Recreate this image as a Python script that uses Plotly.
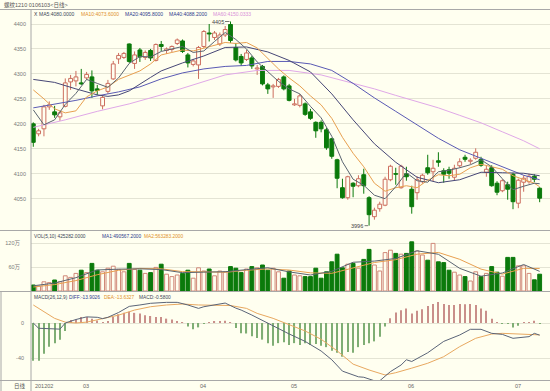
import plotly.graph_objects as go

# ---------------- data ----------------
open_ = [4200,4180,4190,4234,4224,4214,4235,4284,4286,4282,
         4292,4294,4270,4236,4265,4290,4330,4333,4360,4321,
         4348,4333,4347,4327,4359,4347,4349,4361,4366,4338,
         4319,4318,4355,4382,4373,4360,4378,4399,4353,4335,
         4329,4332,4310,4315,4278,4274,4275,4294,4276,4238,
         4237,4240,4224,4203,4203,4188,4170,4128,4072,4052,
         4081,4076,4098,4052,4014,4030,4037,4088,4100,4072,
         4100,4069,4062,4084,4112,4104,4126,4106,4108,4093,
         4116,4133,4125,4131,4129,4103,4112,4081,4066,4078,
         4099,4041,4083,4084,4095,4071]
high = [4203,4190,4238,4245,4236,4226,4291,4298,4306,4310,
        4304,4307,4278,4256,4288,4326,4342,4344,4361,4345,
        4352,4347,4350,4361,4366,4353,4357,4371,4369,4342,
        4330,4356,4388,4400,4386,4383,4396,4405,4362,4340,
        4348,4336,4318,4318,4282,4280,4292,4297,4280,4250,
        4260,4243,4230,4205,4207,4192,4172,4130,4090,4096,
        4083,4097,4110,4055,4032,4044,4094,4118,4112,4118,
        4114,4076,4095,4100,4138,4128,4143,4111,4114,4118,
        4131,4138,4131,4151,4134,4117,4117,4085,4089,4084,
        4102,4090,4097,4100,4099,4073]
low = [4154,4175,4175,4228,4212,4206,4233,4268,4275,4278,
       4288,4252,4258,4229,4260,4288,4320,4330,4322,4310,
       4324,4328,4326,4325,4346,4340,4344,4358,4342,4313,
       4315,4290,4352,4365,4368,4356,4374,4362,4325,4316,
       4326,4310,4298,4277,4260,4252,4272,4267,4245,4236,
       4233,4216,4208,4172,4183,4148,4130,4071,4050,4048,
       4053,4073,4060,3996,4008,4024,4035,4085,4078,4070,
       4086,4020,4048,4080,4098,4085,4114,4082,4090,4087,
       4112,4124,4119,4128,4114,4094,4074,4057,4063,4048,
       4029,4031,4064,4080,4083,4043]
close = [4163,4186,4234,4238,4218,4222,4282,4291,4294,4280,
         4299,4266,4267,4253,4281,4320,4337,4341,4325,4338,
         4334,4343,4332,4359,4355,4350,4355,4368,4345,4322,
         4326,4353,4385,4380,4382,4378,4389,4367,4328,4322,
         4342,4316,4312,4280,4270,4276,4289,4270,4247,4240,
         4256,4219,4211,4186,4190,4152,4135,4091,4052,4094,
         4075,4090,4076,4018,4027,4039,4089,4115,4099,4115,
         4094,4034,4088,4097,4102,4111,4123,4099,4101,4111,
         4124,4129,4127,4143,4117,4109,4076,4063,4086,4069,
         4044,4087,4091,4095,4089,4051]

# volume in 万
volume = [15,12.5,23,21,27.5,23,38,34,44,52,
          46,69,52,48,57,62,54,48,69,54,
          52,44,46,59,67,42,36,40,44,52,
          32,58,50,55,38,50,48,61,57,46,
          55,61,58,65,52,57,48,32,50,40,
          38,36,36,57,32,48,73,92,58,67,
          69,57,79,104,65,50,96,102,94,92,
          94,123,100,90,77,119,73,71,52,47,
          40,36,25,48,36,44,61,47,37,84,
          84,63,63,44,28,42]

ma5_idx = [0,2,4,6,8,10,12,14,16,18,20,22,24,26,28,30,32,34,36,38,40,42,44,46,48,
           50,52,54,56,58,60,62,64,66,68,70,72,74,76,78,80,82,84,86,88,90,92,94,95]
ma5 = [4228,4198,4208,4239,4261,4289,4281,4273,4292,4321,4335,4334,4345,4350,4355,4343,4346,
       4365,4383,4369,4350,4324,4304,4285,4270,4260,4235,4212,4175,4124,4089,4077,4057,4050,
       4074,4102,4086,4083,4104,4107,4112,4118,4128,4114,4090,4068,4075,4081,4080]
ma10_idx = ma5_idx
ma10 = [4268,4250,4230,4222,4226,4254,4266,4274,4289,4297,4306,4320,4338,4343,4348,4346,4352,
        4357,4363,4361,4363,4352,4330,4310,4292,4276,4256,4238,4211,4173,4141,4114,4081,4065,
        4072,4076,4072,4087,4098,4096,4099,4112,4119,4114,4109,4096,4089,4081,4074]
ma20_idx = [0,4,8,12,14,16,18,20,22,24,28,32,36,40,44,48,52,56,60,64,68,72,76,80,84,88,92,95]
ma20 = [4289,4283,4270,4258,4255,4258,4266,4280,4293,4306,4322,4336,4353,4354,4344,4327,4304,
        4260,4208,4160,4123,4093,4082,4088,4103,4102,4101,4096]
ma40_idx = [0,4,8,12,16,20,24,28,32,36,40,44,48,52,56,60,64,68,72,76,80,84,88,92,95]
ma40 = [4232,4239,4247,4256,4264,4274,4290,4302,4310,4315,4317,4325,4325,4320,4307,4281,4252,
        4225,4198,4171,4148,4131,4113,4097,4088]
ma60_idx = [0,6,12,18,24,30,36,42,48,54,60,64,68,72,76,80,84,88,92,95]
ma60 = [4193,4208,4225,4240,4258,4278,4298,4307,4307,4298,4281,4270,4257,4244,4232,4217,4202,
        4184,4166,4150]

vma_idx = [0,4,8,12,16,20,24,28,32,36,40,44,48,52,56,60,64,68,72,76,80,84,88,92,95]
vma5 = [13,19.8,33.3,52.6,54.6,55.4,53.6,45.8,47.2,48.2,53.4,58.2,47.8,40,49.2,71.8,74.8,81.4,
        100.6,91.8,56.6,37,45,66.2,49.1]
vma10 = [10,16,26,40.7,51.8,56.5,55.5,48.4,48,46.7,51.8,55.3,52.4,45.4,44.2,56.8,71.2,78.3,92,
         96.4,79.2,54.7,42.1,56.7,56.3]

macd_hist = [-43,-43,-35,-27,-23,-19,-9,3.4,4,7,
             7,5,3,0.5,2,7,10,11.6,13,11.6,
             11,9,8,7,7,5,4,2.3,0.4,-4,
             -7,-5,-0.5,0.4,1.5,1.5,2.7,0.5,-5.7,-11.8,
             -12,-15,-17,-19,-23,-26,-23,-22,-25,-23,
             -25,-23,-25,-24,-26,-27.6,-31.6,-34,-38.5,-33,
             -34,-27.6,-25,-23,-21,-15.6,-4,5.3,12,14.5,
             16.7,11,14,15.6,19.4,21.7,24,21.7,20.6,20.6,
             21.7,21.3,21.7,20.6,16.7,14,5,1,-0.5,-1,
             -5,-3,0.5,1,2.5,-0.58]
diff_idx = [0,1,3,5,6,8,10,12,13,14,16,18,20,22,25,27,29,31,32,34,36,38,39,41,44,46,48,51,54,
            56,58,61,62,64,65,67,69,70,71,74,77,80,82,84,86,88,90,93,94,95]
diff = [0,-6,-6.5,-7,0,4,7,6.5,5,6.5,12,19,20.6,22.5,23.6,23.6,20.6,16.7,18.6,20.6,22.8,17,
        14.8,9.1,0,-7,-12.5,-21,-32,-42,-55,-61.5,-62,-66,-66,-55.6,-48,-42,-44,-34,-21,-13.7,
        -7.2,-7.2,-11.8,-13,-17.5,-15.6,-11.8,-13.9]
dea_idx = [0,2,4,6,8,10,12,16,19,22,25,28,31,34,37,40,42,45,47,51,54,57,60,63,66,68,71,74,77,
           80,83,86,88,91,95]
dea = [20.6,13,5.3,1,0,1,3.4,9,14.8,18.6,20.6,21.7,20.6,20.6,20,16.7,11,5.3,0.5,-9.1,-18.6,
       -31.8,-47,-53.7,-59.4,-56.8,-51.6,-46,-38.5,-27,-17.5,-12.6,-11.8,-12.6,-13.6]

month_pos = [0, 9, 31, 48, 70, 90]
month_txt = ["201202", "03", "04", "05", "06", "07"]
price_ticks = [4050, 4100, 4150, 4200, 4250, 4300, 4350, 4400]

# ---------------- styling ----------------
BG = "#fffff0"
UP = "#cc6e5e"
UPV = "#d08878"
DN = "#0b7a0b"
GRID = "#e4e4d4"
FRAME = "#a8a8a8"
TXT = "#7a7a7a"
FONT = "Liberation Sans, Noto Sans CJK SC, sans-serif"

N = len(close)
idx = list(range(N))
X0, X1 = -0.43, 96.94

fig = go.Figure()

# wicks
up_ids = [i for i in idx if close[i] >= open_[i]]
dn_ids = [i for i in idx if close[i] < open_[i]]
wx_u, wy_u, wx_d, wy_d = [], [], [], []
for i in up_ids:
    wx_u += [i, i, None, i, i, None]
    wy_u += [high[i], close[i], None, open_[i], low[i], None]
for i in dn_ids:
    wx_d += [i, i, None]
    wy_d += [high[i], low[i], None]
fig.add_trace(go.Scatter(x=wx_u, y=wy_u, mode="lines", line=dict(color=UP, width=1),
                         hoverinfo="skip", xaxis="x", yaxis="y"))
fig.add_trace(go.Scatter(x=wx_d, y=wy_d, mode="lines", line=dict(color=DN, width=1),
                         hoverinfo="skip", xaxis="x", yaxis="y"))
# bodies
fig.add_trace(go.Bar(x=up_ids, base=[open_[i] for i in up_ids],
                     y=[max(close[i] - open_[i], 1.2) for i in up_ids], width=0.72,
                     marker=dict(color=BG, line=dict(color=UP, width=1)),
                     xaxis="x", yaxis="y"))
fig.add_trace(go.Bar(x=dn_ids, base=[close[i] for i in dn_ids],
                     y=[max(open_[i] - close[i], 1.2) for i in dn_ids], width=0.72,
                     marker=dict(color=DN, line=dict(color=DN, width=1)),
                     xaxis="x", yaxis="y"))

# moving averages
for xs, ys, col in [(ma60_idx, ma60, "#e0a8e8"), (ma40_idx, ma40, "#5a5ab4"),
                    (ma20_idx, ma20, "#464676"), (ma10_idx, ma10, "#e8a050"),
                    (ma5_idx, ma5, "#5a6470")]:
    fig.add_trace(go.Scatter(x=xs, y=ys, mode="lines", line=dict(color=col, width=1),
                             hoverinfo="skip", xaxis="x", yaxis="y"))

# volume
fig.add_trace(go.Bar(x=up_ids, y=[volume[i] for i in up_ids], width=0.72,
                     marker=dict(color=BG, line=dict(color=UPV, width=1)),
                     xaxis="x2", yaxis="y2"))
fig.add_trace(go.Bar(x=dn_ids, y=[volume[i] for i in dn_ids], width=0.72,
                     marker=dict(color=DN, line=dict(color=DN, width=1)),
                     xaxis="x2", yaxis="y2"))
fig.add_trace(go.Scatter(x=vma_idx, y=vma10, mode="lines", line=dict(color="#e8a050", width=1),
                         xaxis="x2", yaxis="y2"))
fig.add_trace(go.Scatter(x=vma_idx, y=vma5, mode="lines", line=dict(color="#5a6470", width=1),
                         xaxis="x2", yaxis="y2"))

# MACD
fig.add_trace(go.Bar(x=idx, y=macd_hist, width=0.22,
                     marker=dict(color=["#c98f8a" if v >= 0 else "#7fae74" for v in macd_hist],
                                 line=dict(width=0)),
                     xaxis="x3", yaxis="y3"))
fig.add_trace(go.Scatter(x=dea_idx, y=dea, mode="lines", line=dict(color="#e8a860", width=1),
                         xaxis="x3", yaxis="y3"))
fig.add_trace(go.Scatter(x=diff_idx, y=diff, mode="lines", line=dict(color="#5a6478", width=1),
                         xaxis="x3", yaxis="y3"))

# ---------------- layout ----------------
def py(p):  # pixel y -> paper
    return (380 - p) / 370.0

def px(p):  # pixel x -> paper
    return (p - 31) / 519.0

common_x = dict(range=[X0, X1], showgrid=False, zeroline=False, showticklabels=False,
                ticks="", showline=False, fixedrange=True)
tickfont = dict(size=5.5, color=TXT, family=FONT)

fig.update_layout(
    width=550, height=391, margin=dict(l=31, r=0, t=10, b=11),
    paper_bgcolor=BG, plot_bgcolor=BG, showlegend=False, barmode="overlay",
    hovermode=False,
    xaxis=dict(**common_x, domain=[0, 1], anchor="y"),
    xaxis2=dict(**common_x, domain=[0, 1], anchor="y2", matches="x"),
    xaxis3=dict(**common_x, domain=[0, 1], anchor="y3", matches="x"),
    yaxis=dict(domain=[py(230), 1], range=[3987.3, 4428.05], tickvals=price_ticks,
               ticktext=[str(t) for t in price_ticks], tickfont=tickfont, gridcolor=GRID,
               gridwidth=1, zeroline=False, ticks="", showline=False, ticklabelstandoff=4),
    yaxis2=dict(domain=[py(291), py(231)], range=[0, 150], tickvals=[60, 120],
                ticktext=["60万", "120万"], tickfont=tickfont, gridcolor=GRID, gridwidth=1,
                zeroline=False, ticks="", showline=False, ticklabelstandoff=10),
    yaxis3=dict(domain=[0, py(292)], range=[-65.14, 35.43], tickvals=[-40, 0],
                ticktext=["-40", "0"], tickfont=tickfont, gridcolor=GRID, gridwidth=1,
                zeroline=False, ticks="", showline=False, ticklabelstandoff=6),
)

# frame lines
shapes = []
for yy in [9.5, 230.5, 291.5, 380.5]:
    shapes.append(dict(type="line", xref="paper", yref="paper", x0=px(0), x1=px(550),
                       y0=py(yy), y1=py(yy), line=dict(color=FRAME, width=1)))
shapes.append(dict(type="line", xref="paper", yref="paper", x0=px(31), x1=px(31),
                   y0=py(9.5), y1=py(391), line=dict(color=FRAME, width=1)))
shapes.append(dict(type="line", xref="paper", yref="paper", x0=px(1), x1=px(1),
                   y0=py(291.5), y1=py(391), line=dict(color=FRAME, width=1)))
fig.update_layout(shapes=shapes)

anns = []
def ann(text, x, y, color="#444", size=5, xanchor="left"):
    anns.append(dict(text=text, x=px(x), y=py(y), xref="paper", yref="paper",
                     xanchor=xanchor, yanchor="middle", showarrow=False,
                     font=dict(size=size, color=color, family=FONT)))

ann("螺纹1210 0106103&lt;日线&gt;", 2, 4.5, "#555", 5.5)
ann("X", 31.5, 14, "#334")
ann("MA5:4080.0000", 37, 14, "#3a4656")
ann("MA10:4073.6000", 79, 14, "#e0902a")
ann("MA20:4095.8000", 123, 14, "#2c3a8c")
ann("MA40:4088.2000", 167, 14, "#2c3a8c")
ann("MA60:4150.0333", 211, 14, "#d890d8")
ann("VOL(5,10) 425282.0000", 32, 237, "#3a4656", 4.8)
ann("MA1:490567.2000", 100, 237, "#2c3a8c", 4.8)
ann("MA2:563283.2000", 142, 237, "#e0902a", 4.8)
ann("MACD(26,12,9)", 31.5, 297, "#3a4656", 4.8)
ann("DIFF:-13.9026", 67, 297, "#2c3a8c", 4.8)
ann("DEA:-13.6327", 102, 297, "#e0902a", 4.8)
ann("MACD:-0.5800", 137, 297, "#3a4656", 4.8)
ann("日线", 28, 386, "#555", 5.5, "right")

for p, t in zip(month_pos, month_txt):
    anns.append(dict(text=t, x=max(p - 0.05, X0), y=py(386), xref="x3", yref="paper",
                     xanchor="left", yanchor="middle", showarrow=False,
                     font=dict(size=5.5, color="#666", family=FONT)))

# high / low markers
hi_i = max(idx, key=lambda i: high[i])
lo_i = min(idx, key=lambda i: low[i])
anns.append(dict(text=str(high[hi_i]), x=hi_i, y=high[hi_i], xref="x", yref="y",
                 showarrow=True, ax=-13, ay=0, arrowhead=0, arrowwidth=0.8,
                 arrowcolor="#555", standoff=1, font=dict(size=5.5, color="#444", family=FONT)))
anns.append(dict(text=str(low[lo_i]), x=lo_i, y=low[lo_i], xref="x", yref="y",
                 showarrow=True, ax=-12, ay=0, arrowhead=0, arrowwidth=0.8,
                 arrowcolor="#555", standoff=1, font=dict(size=5.5, color="#444", family=FONT)))
fig.update_layout(annotations=anns)

fig.write_html("out.html", config={"displayModeBar": False},
               post_script="document.body.style.margin='0px';")
